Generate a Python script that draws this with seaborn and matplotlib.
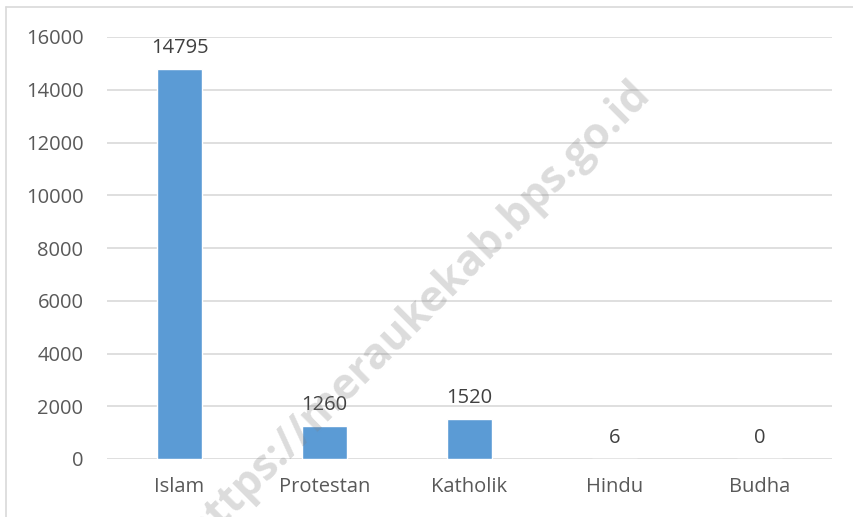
import matplotlib
matplotlib.use("Agg")
import matplotlib.pyplot as plt
import seaborn as sns
import pandas as pd
from matplotlib.lines import Line2D

categories = ["Islam", "Protestan", "Katholik", "Hindu", "Budha"]
values = [14795, 1260, 1520, 6, 0]
yticks = [0, 2000, 4000, 6000, 8000, 10000, 12000, 14000, 16000]
watermark = "https://meraukekab.bps.go.id"

sns.set_style("white")
plt.rcParams["font.family"] = ["Open Sans", "DejaVu Sans"]

df = pd.DataFrame({"agama": categories, "jumlah": values})

fig = plt.figure(figsize=(8.54, 5.17), dpi=100)
ax = fig.add_axes([107 / 854, 1 - 459 / 517, (832 - 107) / 854, (459 - 37) / 517])

sns.barplot(data=df, x="agama", y="jumlah", color="#5B9BD5", saturation=1,
            width=0.31, ax=ax, zorder=2)

ax.set_ylim(0, 16000)
ax.set_yticks(yticks)
ax.set_yticklabels([str(t) for t in yticks])
ax.yaxis.grid(True, color="#d9d9d9", linewidth=1.2, zorder=0)
ax.set_axisbelow(True)
for s in ax.spines.values():
    s.set_visible(False)
ax.tick_params(axis="both", length=0, labelsize=14.5, labelcolor="#595959")
ax.tick_params(axis="x", pad=13)
ax.tick_params(axis="y", pad=17)
ax.set_xlabel("")
ax.set_ylabel("")

ax.bar_label(ax.containers[0], labels=[str(v) for v in values], padding=8,
             fontsize=14.5, color="#404040")

# chart border (only top/left visible in the crop)
fig.add_artist(Line2D([6 / 854, 6 / 854], [-0.1, 1 - 7 / 517], color="#d9d9d9", lw=1.2))
fig.add_artist(Line2D([6 / 854, 1.1], [1 - 7 / 517, 1 - 7 / 517], color="#d9d9d9", lw=1.2))

# diagonal site watermark, runs off the bottom edge as in the source image
fig.text(418 / 854, 1 - 312 / 517, watermark, rotation=45, fontsize=31,
         fontweight="bold", color="#808080", alpha=0.28, ha="center", va="center",
         rotation_mode="anchor", zorder=10)

fig.savefig("out.png", dpi=100)
